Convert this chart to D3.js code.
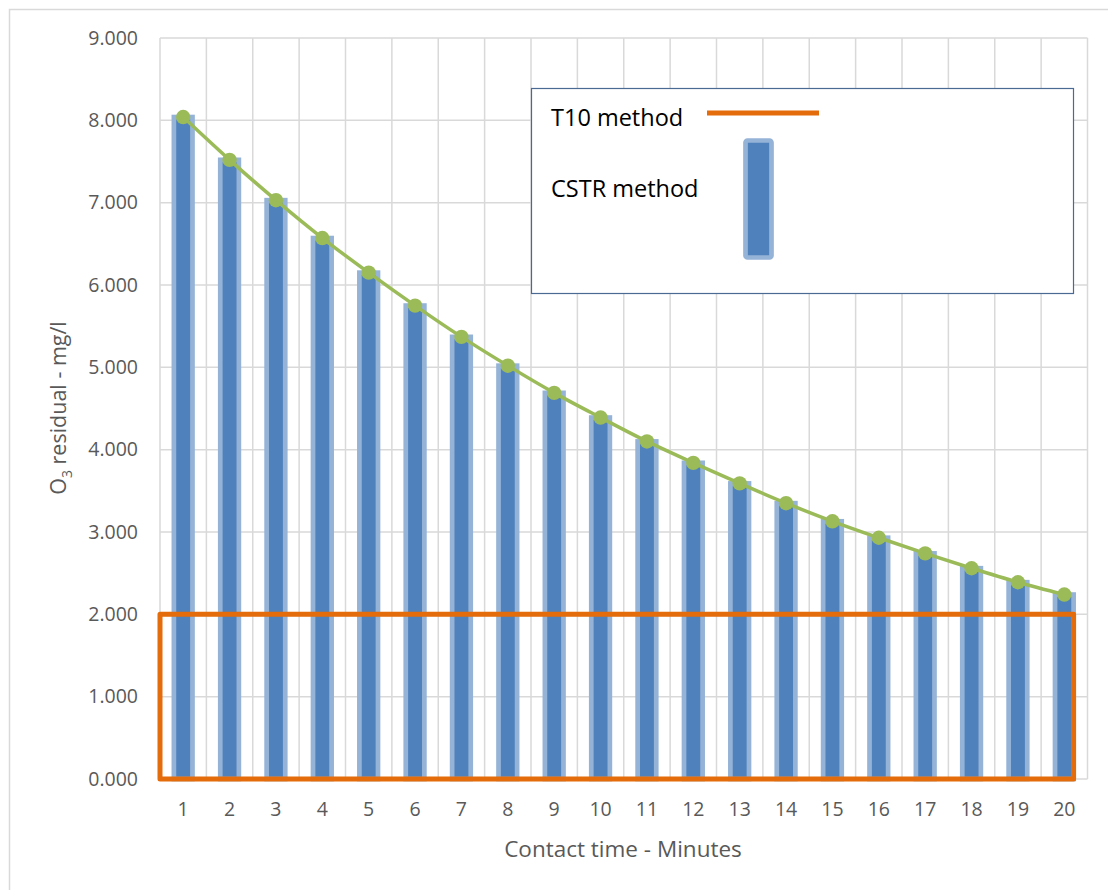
<!DOCTYPE html>
<html>
<head>
<meta charset="utf-8">
<script src="https://cdn.jsdelivr.net/npm/d3@7"></script>
<style>
  html, body { margin: 0; padding: 0; background: #fff; }
  svg { display: block; }
</style>
</head>
<body>
<script>
// Contact time (minutes) and residual ozone for the CSTR method
const minutes = d3.range(1, 21);
const cstrResidual = [8.04, 7.52, 7.03, 6.57, 6.15, 5.75, 5.37, 5.02, 4.69, 4.39,
                      4.10, 3.84, 3.59, 3.35, 3.13, 2.93, 2.74, 2.56, 2.39, 2.24];
// T10 method level and its span along the category axis (in band units)
const t10Level = 2.0;
const t10Span = [0, 19.7];
const yTicks = [0, 1, 2, 3, 4, 5, 6, 7, 8, 9];
const legendLabels = ["T10 method", "CSTR method"];

const width = 1108, height = 890;
const margin = {top: 38, right: 20.5, bottom: 111, left: 160};
const innerW = width - margin.left - margin.right;
const innerH = height - margin.top - margin.bottom;

const colors = {
  bar: "#4F81BD", barEdge: "#95B3D7", line: "#9BBB59",
  t10: "#E46C0A", grid: "#D9D9D9", text: "#595959"
};
const font = "'Open Sans', 'DejaVu Sans', sans-serif";

const svg = d3.select("body").append("svg")
  .attr("width", width)
  .attr("height", height);

// chart frame
svg.append("rect")
  .attr("x", 9.5).attr("y", 9.5)
  .attr("width", width + 20).attr("height", height + 20)
  .attr("fill", "none")
  .attr("stroke", colors.grid)
  .attr("stroke-width", 1.5);

const g = svg.append("g").attr("transform", `translate(${margin.left},${margin.top})`);

const x = d3.scaleBand(minutes, [0, innerW]).paddingInner(0).paddingOuter(0);
const xLin = d3.scaleLinear([0, minutes.length], [0, innerW]); // band units
const y = d3.scaleLinear([0, 9], [innerH, 0]);

// horizontal gridlines
g.append("g")
  .selectAll("line")
  .data(yTicks)
  .join("line")
  .attr("x1", 0).attr("x2", innerW)
  .attr("y1", d => y(d)).attr("y2", d => y(d))
  .attr("stroke", colors.grid)
  .attr("stroke-width", 1.5);

// vertical gridlines at category boundaries
g.append("g")
  .selectAll("line")
  .data(d3.range(0, minutes.length + 1))
  .join("line")
  .attr("x1", d => xLin(d)).attr("x2", d => xLin(d))
  .attr("y1", 0).attr("y2", innerH)
  .attr("stroke", colors.grid)
  .attr("stroke-width", 1.5);

// y tick labels
g.append("g")
  .call(d3.axisLeft(y).tickValues(yTicks).tickFormat(d3.format(".3f")).tickSize(0).tickPadding(22))
  .call(a => a.select(".domain").remove())
  .call(a => a.selectAll("text")
    .attr("font-family", font)
    .attr("font-size", 19.5)
    .attr("fill", colors.text));

// x tick labels
g.append("g")
  .attr("transform", `translate(0,${innerH})`)
  .call(d3.axisBottom(x).tickSize(0).tickPadding(23))
  .call(a => a.select(".domain").remove())
  .call(a => a.selectAll("text")
    .attr("font-family", font)
    .attr("font-size", 19.5)
    .attr("fill", colors.text));

// CSTR bars
const barW = 18.6;
g.append("g")
  .selectAll("rect")
  .data(minutes)
  .join("rect")
  .attr("x", (d, i) => x(d) + x.bandwidth() / 2 - barW / 2)
  .attr("y", (d, i) => y(cstrResidual[i]))
  .attr("width", barW)
  .attr("height", (d, i) => y(0) - y(cstrResidual[i]))
  .attr("fill", colors.bar)
  .attr("stroke", colors.barEdge)
  .attr("stroke-width", 4.7);

// T10 method outline
g.append("rect")
  .attr("x", xLin(t10Span[0]))
  .attr("y", y(t10Level))
  .attr("width", xLin(t10Span[1]) - xLin(t10Span[0]))
  .attr("height", y(0) - y(t10Level))
  .attr("fill", "none")
  .attr("stroke", colors.t10)
  .attr("stroke-width", 5)
  .attr("stroke-linejoin", "round");

// CSTR trend line
const line = d3.line()
  .x((d, i) => x(d) + x.bandwidth() / 2)
  .y((d, i) => y(cstrResidual[i]))
  .curve(d3.curveMonotoneX);

g.append("path")
  .datum(minutes)
  .attr("d", line)
  .attr("fill", "none")
  .attr("stroke", colors.line)
  .attr("stroke-width", 3.5);

g.append("g")
  .selectAll("circle")
  .data(minutes)
  .join("circle")
  .attr("cx", d => x(d) + x.bandwidth() / 2)
  .attr("cy", (d, i) => y(cstrResidual[i]))
  .attr("r", 7.2)
  .attr("fill", colors.line);

// axis titles
svg.append("text")
  .attr("x", 623)
  .attr("y", 857)
  .attr("text-anchor", "middle")
  .attr("font-family", font)
  .attr("font-size", 22.5)
  .attr("fill", colors.text)
  .text("Contact time - Minutes");

const yTitle = svg.append("text")
  .attr("transform", "translate(66,408) rotate(-90)")
  .attr("text-anchor", "middle")
  .attr("font-family", font)
  .attr("font-size", 21.5)
  .attr("fill", colors.text);
yTitle.append("tspan").text("O");
yTitle.append("tspan").attr("font-size", 14).attr("dy", 6).text("3");
yTitle.append("tspan").attr("dy", -6).text(" residual - mg/l");

// legend
const legend = svg.append("g").attr("transform", "translate(531,88)");
legend.append("rect")
  .attr("x", 0.5).attr("y", 0.5)
  .attr("width", 542).attr("height", 205)
  .attr("fill", "#fff")
  .attr("stroke", "#4A6A94")
  .attr("stroke-width", 1.2);

legend.append("text")
  .attr("x", 20).attr("y", 38)
  .attr("font-family", font)
  .attr("font-size", 23.5)
  .attr("fill", "#000")
  .text(legendLabels[0]);
legend.append("line")
  .attr("x1", 176).attr("x2", 288)
  .attr("y1", 25).attr("y2", 25)
  .attr("stroke", colors.t10)
  .attr("stroke-width", 5);

legend.append("text")
  .attr("x", 20).attr("y", 109)
  .attr("font-family", font)
  .attr("font-size", 23.5)
  .attr("fill", "#000")
  .text(legendLabels[1]);
legend.append("rect")
  .attr("x", 214.5).attr("y", 52.5)
  .attr("width", 26).attr("height", 117)
  .attr("rx", 2)
  .attr("fill", colors.bar)
  .attr("stroke", colors.barEdge)
  .attr("stroke-width", 4.7);
</script>
</body>
</html>
